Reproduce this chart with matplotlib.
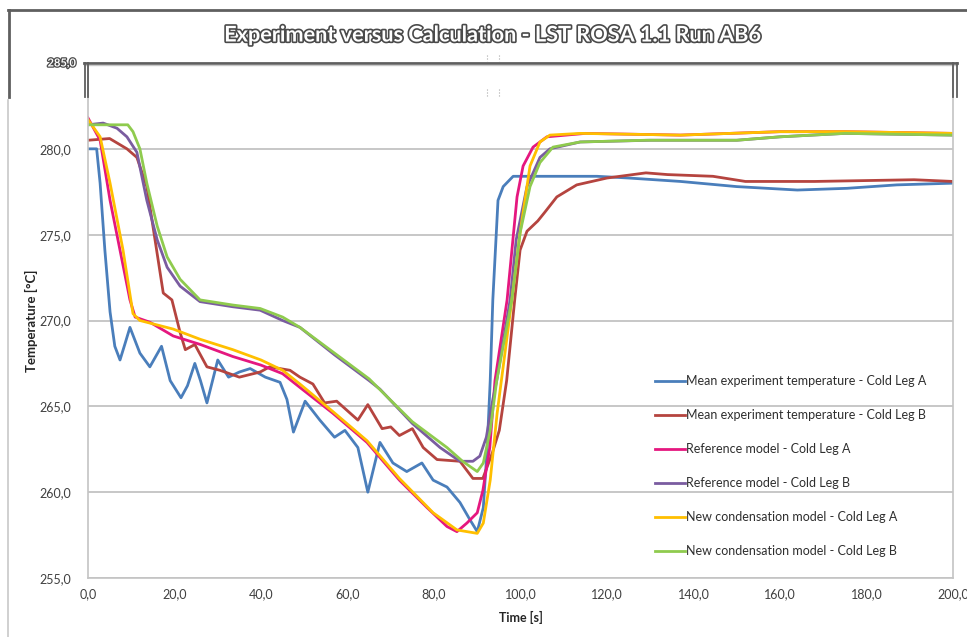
import matplotlib
matplotlib.use('Agg')
import matplotlib.pyplot as plt
import matplotlib.patheffects as pe
from matplotlib.lines import Line2D

plt.rcParams['font.family'] = ['Lato', 'DejaVu Sans']

# data
t_exp_a = [0, 2, 2.8, 3.9, 5.1, 6.2, 7.4, 8.5, 9.7, 12, 14.3, 17, 19, 21.5, 23, 24.7, 26, 27.5, 30, 32.5,
           35, 37.5, 41, 44.4, 46, 47.5, 50.2, 53.6, 57, 59.4, 62.4, 64.7, 67.5, 70.5, 73.7, 77.2, 79.8, 83, 86, 88.3,
           90, 91.4, 92.3, 93, 93.6, 94.8, 96, 98.3, 105, 117.7, 125, 137, 150, 157, 164, 175.5, 187, 200]
T_exp_a = [280.0, 280.0, 278.0, 274.1, 270.5, 268.5, 267.7, 268.6, 269.6, 268.1, 267.3, 268.5, 266.5, 265.5, 266.2,
           267.5, 266.5, 265.2, 267.7, 266.7, 267.0, 267.2, 266.7, 266.4, 265.4, 263.5, 265.3, 264.2, 263.2, 263.6,
           262.6, 260.0, 262.9, 261.7, 261.2, 261.7, 260.7, 260.3, 259.4, 258.4, 257.7, 259.1, 262.6, 266.5, 271.2,
           277.0, 277.8, 278.4, 278.4, 278.4, 278.3, 278.1, 277.8, 277.7, 277.6, 277.7, 277.9, 278.0]

t_exp_b = [0, 5, 9, 11.3, 13.6, 15.5, 17.4, 19.4, 21.3, 22.5, 24.7, 27.5, 30.5, 35, 39.8, 42, 46.7, 49, 52, 54.7,
           57.5, 62.4, 64.7, 68, 70, 72, 75, 77.5, 80.7, 86, 89, 91.3, 93.5, 95.1, 96.8, 98.7, 99.9, 101.5, 104, 105.6,
           108.4, 113, 120, 129, 134, 144.5, 152, 168, 191, 200]
T_exp_b = [280.5, 280.6, 280.0, 279.5, 277.8, 274.7, 271.6, 271.2, 269.3, 268.3, 268.6, 267.3, 267.1, 266.7, 267.0,
           267.3, 267.1, 266.7, 266.3, 265.2, 265.3, 264.2, 265.1, 263.7, 263.8, 263.3, 263.7, 262.6, 261.9, 261.8,
           260.8, 260.8, 262.3, 263.6, 266.5, 271.3, 274.1, 275.2, 275.8, 276.3, 277.2, 277.9, 278.3, 278.6, 278.5,
           278.4, 278.1, 278.1, 278.2, 278.1]

t_ref_a = [0, 2.8, 5.1, 7.4, 9.7, 10.9, 14.3, 19.7, 26, 33.5, 40, 45, 49, 56.6, 64.5, 72, 78.4, 83, 85.3, 87.6,
           90, 91.3, 92.9, 94.1, 96.9, 99.2, 100.6, 102.9, 106.1, 115, 137, 160, 175, 200]
T_ref_a = [281.8, 280.5, 277.0, 274.1, 271.2, 270.2, 269.9, 269.1, 268.6, 267.9, 267.4, 266.9, 266.1, 264.6, 262.9,
           260.7, 259.1, 258.0, 257.7, 258.2, 258.8, 260.1, 262.6, 266.5, 271.2, 277.2, 279.0, 280.1, 280.7, 280.9,
           280.8, 281.0, 281.0, 280.9]

t_ref_b = [0, 3.5, 6.7, 9, 11.3, 13.6, 16, 18.3, 21.3, 25.9, 33.5, 39.8, 45, 49, 57, 65, 67.5, 75, 81.4, 86,
           89, 90.6, 92.1, 93.6, 94.5, 97.6, 99, 101.5, 104.5, 106.8, 113.8, 130, 150, 160, 175, 200]
T_ref_b = [281.4, 281.5, 281.2, 280.7, 279.8, 277.0, 274.7, 273.1, 272.0, 271.1, 270.8, 270.6, 270.0, 269.6, 268.0,
           266.5, 266.0, 264.0, 262.6, 261.8, 261.8, 262.1, 263.2, 265.4, 266.5, 271.2, 274.7, 277.8, 279.5, 280.0,
           280.4, 280.5, 280.5, 280.7, 280.9, 280.8]

t_new_a = [0, 2.8, 5.1, 8.1, 10.4, 12, 19.7, 26, 33.5, 40, 45, 49, 56.6, 64.5, 72, 79.8, 85.3, 90, 91.4, 93,
           94.6, 98, 99.9, 102.2, 104.5, 106.8, 113.8, 137, 160, 175, 200]
T_new_a = [281.7, 280.7, 278.0, 274.1, 270.4, 270.0, 269.5, 268.9, 268.3, 267.7, 267.1, 266.3, 264.7, 263.0, 260.8,
           258.8, 257.8, 257.6, 258.2, 260.7, 264.6, 271.2, 275.1, 279.0, 280.4, 280.8, 280.9, 280.8, 281.0, 281.0,
           280.9]

t_new_b = [0, 9.2, 10.4, 12, 13.6, 16, 18.3, 21.3, 25.9, 33.5, 39.8, 45, 49, 57, 65, 75, 83, 86.6, 90, 91.4,
           93, 94.5, 98, 99.9, 102.2, 104.5, 107.5, 113.8, 129, 150, 160, 175, 200]
T_new_b = [281.4, 281.4, 281.0, 280.0, 278.0, 275.5, 273.7, 272.4, 271.2, 270.9, 270.7, 270.2, 269.6, 268.1, 266.6,
           264.1, 262.6, 261.8, 261.2, 261.7, 263.6, 266.5, 271.2, 275.1, 277.8, 279.2, 280.1, 280.4, 280.5, 280.5,
           280.7, 280.9, 280.8]

labels = ['Mean experiment temperature - Cold Leg A', 'Mean experiment temperature - Cold Leg B',
          'Reference model - Cold Leg A', 'Reference model - Cold Leg B',
          'New condensation model - Cold Leg A', 'New condensation model - Cold Leg B']
colors = ['#4A7EBB', '#B5443F', '#E5177F', '#7A5CA0', '#FFBF00', '#8FCB4E']
series = [(t_exp_a, T_exp_a), (t_exp_b, T_exp_b), (t_ref_a, T_ref_a),
          (t_ref_b, T_ref_b), (t_new_a, T_new_a), (t_new_b, T_new_b)]

W, H = 967, 637
fig = plt.figure(figsize=(W / 100, H / 100), dpi=100)


def fx(px):
    return px / W


def fy(py):
    return 1 - py / H


ax = fig.add_axes([fx(88), fy(578), fx(953) - fx(88), fy(63) - fy(578)])

for (t, T), c, lab in zip(series, colors, labels):
    ax.plot(t, T, color=c, lw=2, label=lab, solid_joinstyle='round')

ax.set_xlim(0, 200)
ax.set_ylim(255, 285)
ax.set_xticks(range(0, 201, 20))
ax.set_xticklabels(['%d,0' % v for v in range(0, 201, 20)])
ax.set_yticks(range(255, 281, 5))
ax.set_yticklabels(['%d,0' % v for v in range(255, 281, 5)])
ax.grid(axis='y', color='#BEBEBE', lw=1.2)
ax.set_axisbelow(True)
ax.tick_params(length=0, labelsize=9, colors='#404040')
ax.tick_params(axis='y', pad=12)
ax.tick_params(axis='x', pad=7)
for s in ax.spines.values():
    s.set_color('#C4C4C4')
    s.set_linewidth(1.2)
ax.spines['top'].set_visible(False)

ax.set_ylabel('Temperature [°C]', fontsize=9.5, fontweight='bold', color='#262626', labelpad=1)
ax.set_xlabel('Time [s]', fontsize=9, fontweight='bold', color='#262626', labelpad=8)

leg = ax.legend(loc='upper left', bbox_to_anchor=(fx(655), fy(375)), bbox_transform=fig.transFigure,
                frameon=False, fontsize=9, handlelength=2.4, handletextpad=0.1, labelspacing=1.76,
                borderpad=0, borderaxespad=0)
for txt in leg.get_texts():
    txt.set_color('#2E2E2E')

# dark frame pieces in the upper part of the picture
dark = '#5F5F5F'
fig.add_artist(Line2D([fx(8), 1], [fy(9.5), fy(9.5)], color=dark, lw=2))
fig.add_artist(Line2D([fx(9), fx(9)], [fy(9.5), fy(97)], color=dark, lw=2))
fig.add_artist(Line2D([fx(8), fx(8)], [fy(100), 0], color='#C8C8C8', lw=1.2))
fig.add_artist(Line2D([fx(84), fx(957)], [fy(62.5), fy(62.5)], color=dark, lw=2))
fig.add_artist(Line2D([fx(84), fx(957)], [fy(64.5), fy(64.5)], color='#C8C8C8', lw=1))
for xp in (84.5, 87.5, 953, 956.5):
    fig.add_artist(Line2D([fx(xp), fx(xp)], [fy(62.5), fy(97)], color=dark, lw=1.3))
for xp in (487, 499):
    for y0, y1 in ((55, 61), (89, 97)):
        fig.add_artist(Line2D([fx(xp), fx(xp)], [fy(y0), fy(y1)], color='#AAAAAA', lw=0.8, ls=':'))

outline = [pe.withStroke(linewidth=2.4, foreground='#4A4A4A')]
fig.text(fx(493), fy(35), 'Experiment versus Calculation - LST ROSA 1.1 Run AB6', ha='center', va='center',
         fontsize=15.6, fontweight='bold', color='white', path_effects=outline)
fig.text(fx(76), fy(63), '285,0', ha='right', va='center', fontsize=8, fontweight='bold', color='white',
         path_effects=[pe.withStroke(linewidth=1.8, foreground='#4A4A4A')])

fig.savefig('out.png', dpi=100)
